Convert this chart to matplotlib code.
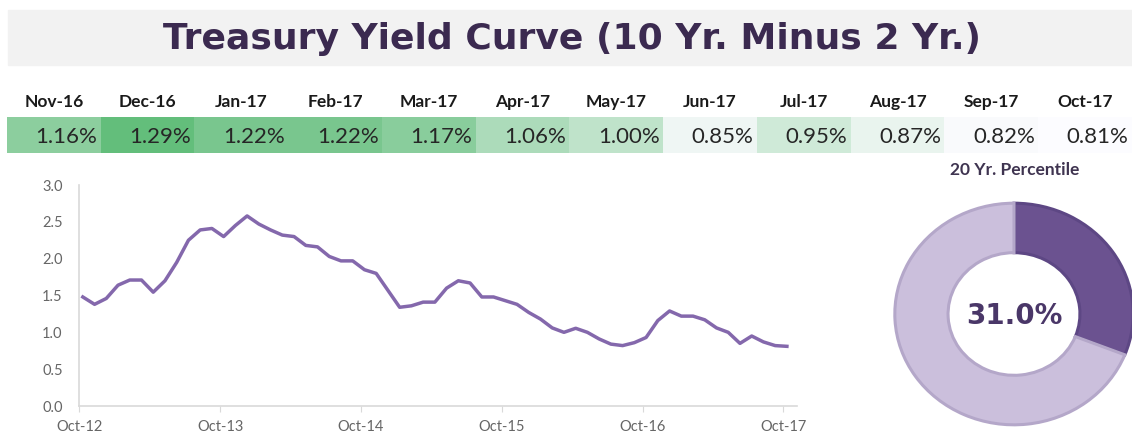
import numpy as np
import matplotlib
matplotlib.use("Agg")
import matplotlib.pyplot as plt
from matplotlib.colors import LinearSegmentedColormap
from matplotlib.patches import Rectangle

W, H = 1132, 433

# monthly spread, Oct-12 .. Oct-17
spread = [1.48, 1.38, 1.46, 1.64, 1.71, 1.71, 1.545, 1.70, 1.95, 2.25, 2.39, 2.41,
          2.30, 2.45, 2.58, 2.47, 2.39, 2.32, 2.30, 2.18, 2.16, 2.03, 1.97, 1.97,
          1.85, 1.80, 1.57, 1.34, 1.36, 1.41, 1.41, 1.60, 1.70, 1.67, 1.48, 1.48,
          1.43, 1.38, 1.27, 1.18, 1.06, 1.00, 1.055, 1.00, 0.91, 0.84, 0.82, 0.86,
          0.93, 1.16, 1.29, 1.22, 1.22, 1.17, 1.06, 1.00, 0.85, 0.95, 0.87, 0.82, 0.81]
year_labels = ["Oct-12", "Oct-13", "Oct-14", "Oct-15", "Oct-16", "Oct-17"]

months = ["Nov-16", "Dec-16", "Jan-17", "Feb-17", "Mar-17", "Apr-17",
          "May-17", "Jun-17", "Jul-17", "Aug-17", "Sep-17", "Oct-17"]
last12 = [1.16, 1.29, 1.22, 1.22, 1.17, 1.06, 1.00, 0.85, 0.95, 0.87, 0.82, 0.81]

pct = 31.0


def box(x0, y0, x1, y1):
    # pixel box (top-left origin) -> figure fraction
    return [x0 / W, 1 - y1 / H, (x1 - x0) / W, (y1 - y0) / H]


fig = plt.figure(figsize=(W / 100, H / 100), dpi=100)

# title band
fig.patches.append(Rectangle((8 / W, 1 - 65 / H), (W - 8) / W, 55 / H,
                             transform=fig.transFigure, color="#f2f2f2", zorder=0))
fig.text(572 / W, 1 - 39 / H, "Treasury Yield Curve (10 Yr. Minus 2 Yr.)",
         ha="center", va="center", fontsize=26, fontweight="bold",
         family="DejaVu Sans", color="#3b2a50")

# heat-map row
ax_t = fig.add_axes(box(7, 117, W, 153))
greens = LinearSegmentedColormap.from_list("g", ["#fcfcff", "#63be7b"])
ax_t.imshow(np.array([last12]), cmap=greens, aspect="auto",
            vmin=min(last12), vmax=max(last12), extent=(0, 12, 0, 1))
ax_t.set_xlim(0, 12)
ax_t.set_ylim(0, 1)
ax_t.axis("off")
for i, (m, v) in enumerate(zip(months, last12)):
    ax_t.text(i + 0.5, 1.42, m, ha="center", va="center", fontsize=12.5,
              fontweight="bold", family="Lato", color="#1a1a1a", clip_on=False)
    ax_t.text(i + 0.965, 0.45, "%.2f%%" % v, ha="right", va="center",
              fontsize=16, family="Lato", color="#262626")

# line chart
ax = fig.add_axes(box(79.3, 185, 797, 406))
x = np.arange(len(spread)) + 0.3
ax.plot(x, spread, color="#8468ac", lw=2.5, solid_joinstyle="round")
ax.set_xlim(0, 61.16)
ax.set_ylim(0, 3)
ax.set_yticks(np.arange(0, 3.01, 0.5))
ax.set_yticklabels(["%.1f" % t for t in np.arange(0, 3.01, 0.5)])
ax.set_xticks(np.arange(0, 61, 12))
ax.set_xticklabels(year_labels)
for s in ["top", "right"]:
    ax.spines[s].set_visible(False)
for s in ["left", "bottom"]:
    ax.spines[s].set_color("#d9d9d9")
    ax.spines[s].set_linewidth(1.2)
ax.tick_params(axis="y", length=0, pad=12, labelsize=10.5, labelcolor="#666666")
ax.tick_params(axis="x", length=4, color="#d9d9d9", pad=6, labelsize=10.5,
               labelcolor="#666666")
for lab in ax.get_xticklabels() + ax.get_yticklabels():
    lab.set_family("Lato")

# donut
fig.text(1015 / W, 1 - 170 / H, "20 Yr. Percentile", ha="center", va="center",
         fontsize=12.5, fontweight="bold", family="Lato", color="#3f3450")
ax_d = fig.add_axes(box(893, 201.5, 1135, 426.5))
wedges, _ = ax_d.pie([pct, 100 - pct], colors=["#6b5290", "#cbbfdc"],
                     startangle=90, counterclock=False, radius=0.985,
                     wedgeprops=dict(width=0.44, linewidth=2.2))
wedges[0].set_edgecolor("#5d4784")
wedges[1].set_edgecolor("#b4a7c9")
ax_d.set_aspect("auto")
ax_d.set_xlim(-1, 1)
ax_d.set_ylim(-1, 1)
ax_d.axis("off")
ax_d.text(0, -0.02, "%.1f%%" % pct, ha="center", va="center", fontsize=20,
          fontweight="bold", family="DejaVu Sans", color="#4a3768")

fig.savefig("out.png", dpi=100)
